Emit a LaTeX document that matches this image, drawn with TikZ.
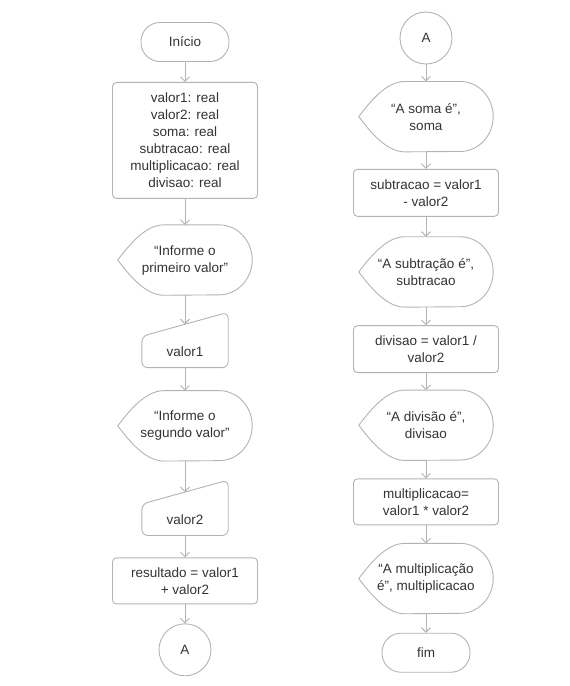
\documentclass[tikz,border=0pt]{standalone}
\usepackage{fontspec}
\setmainfont{Liberation Sans}
\usepackage{tikz}
\usetikzlibrary{arrows.meta, positioning}
\definecolor{linegray}{HTML}{B3B3B3}
\definecolor{textgray}{HTML}{333333}

% outline of a display shape (pointed left, round right)
\newcommand{\drawdisplay}[1]{%
  \draw[shapeline] (#1.west) .. controls ([xshift=12pt,yshift=16pt]#1.west) and ([xshift=28pt]#1.north west) .. ([xshift=46pt]#1.north west)
    -- ([xshift=-33pt]#1.north east) arc[start angle=90, end angle=-90, x radius=33pt, y radius=35pt]
    -- ([xshift=46pt]#1.south west) .. controls ([xshift=28pt]#1.south west) and ([xshift=12pt,yshift=-16pt]#1.west) .. (#1.west) -- cycle;}
% outline of a manual input shape (slanted top)
\newcommand{\drawmanual}[1]{%
  \draw[shapeline, rounded corners=6pt] (#1.west) -- (#1.north west) -- ([yshift=24pt]#1.north east) -- (#1.south east) -- (#1.south west) -- cycle;
  \coordinate (#1-top) at ([yshift=12pt]#1.north);}

\begin{document}
\begin{tikzpicture}[x=1pt, y=-1pt,
        every node/.style={font=\fontsize{13.5pt}{17pt}\selectfont, text=textgray, align=center, inner sep=0pt},
        shapeline/.style={draw=linegray, line width=0.9pt},
        terminal/.style={shapeline, rounded corners=19pt, minimum width=88pt, minimum height=39pt},
        process/.style={shapeline, rounded corners=4pt, minimum width=145pt},
        display/.style={minimum width=134pt, minimum height=70pt},
        manual/.style={minimum width=86pt, minimum height=31pt},
        connector/.style={shapeline, circle, minimum size=52pt},
        flow/.style={draw=linegray, line width=0.9pt, -{Straight Barb[length=4.5pt,width=9pt]}}]
        \useasboundingbox (0,0) rectangle (570,686);

        % left column
        \node[terminal] (start) at (185,42) {Início};
        \node[process, minimum height=116pt] (decl) [below=20pt of start] {valor1: real\\valor2: real\\soma: real\\subtracao: real\\multiplicacao: real\\divisao: real};
        \node[display] (msg1) [below=26pt of decl] {“Informe o\\primeiro valor”};
        \node[manual] (in1) [below=41pt of msg1] {valor1};
        \node[display] (msg2) [below=23pt of in1] {“Informe o\\segundo valor”};
        \node[manual] (in2) [below=43pt of msg2] {valor2};
        \node[process, minimum height=46pt] (res) [below=22pt of in2] {resultado = valor1\\+ valor2};
        \node[connector] (conA) [below=19pt of res] {A};

        % right column
        \node[connector] (conB) at (426,38) {A};
        \node[display] (out1) [below=17pt of conB] {“A soma é”,\\soma};
        \node[process, minimum height=47pt] (sub) [below=17pt of out1] {subtracao = valor1\\- valor2};
        \node[display] (out2) [below=20pt of sub] {“A subtração é”,\\subtracao};
        \node[process, minimum height=47pt] (div) [below=18pt of out2] {divisao = valor1 /\\valor2};
        \node[display] (out3) [below=17pt of div] {“A divisão é”,\\divisao};
        \node[process, minimum height=46pt] (mul) [below=18pt of out3] {multiplicacao=\\valor1 * valor2};
        \node[display] (out4) [below=18pt of mul] {“A multiplicação\\é”, multiplicacao};
        \node[terminal] (fin) [below=19pt of out4] {fim};

        \drawdisplay{msg1}
        \drawdisplay{msg2}
        \drawdisplay{out1}
        \drawdisplay{out2}
        \drawdisplay{out3}
        \drawdisplay{out4}
        \drawmanual{in1}
        \drawmanual{in2}

        \draw[flow] (start) -- (decl);
        \draw[flow] (decl) -- (msg1);
        \draw[flow] (msg1) -- (in1-top);
        \draw[flow] (in1) -- (msg2);
        \draw[flow] (msg2) -- (in2-top);
        \draw[flow] (in2) -- (res);
        \draw[flow] (res) -- (conA);

        \draw[flow] (conB) -- (out1);
        \draw[flow] (out1) -- (sub);
        \draw[flow] (sub) -- (out2);
        \draw[flow] (out2) -- (div);
        \draw[flow] (div) -- (out3);
        \draw[flow] (out3) -- (mul);
        \draw[flow] (mul) -- (out4);
        \draw[flow] (out4) -- (fin);
    \end{tikzpicture}
\end{document}
